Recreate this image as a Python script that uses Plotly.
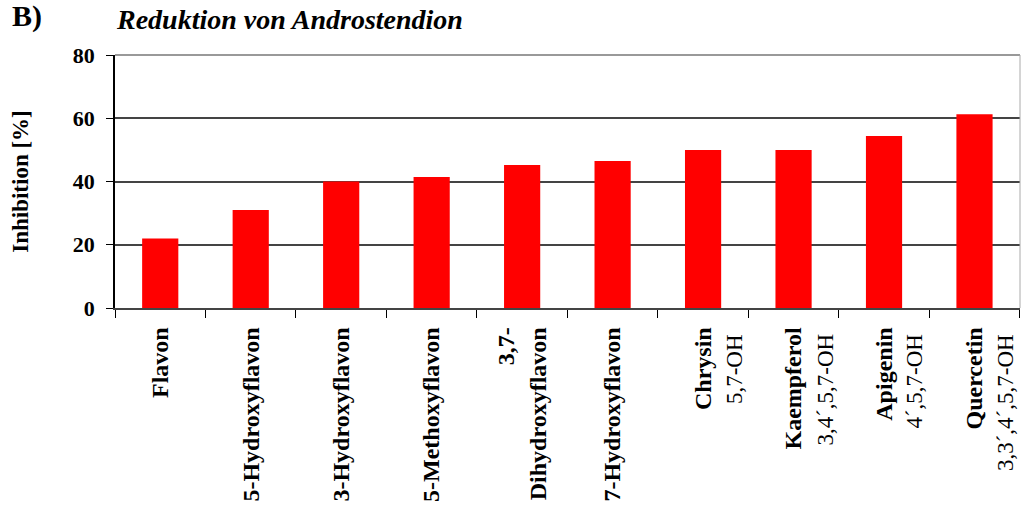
import plotly.graph_objects as go

categories = ["Flavon", "5-Hydroxyflavon", "3-Hydroxyflavon", "5-Methoxyflavon",
              "3,7-Dihydroxyflavon", "7-Hydroxyflavon", "Chrysin", "Kaempferol",
              "Apigenin", "Quercetin"]
tick_labels = ["<b>Flavon</b>", "<b>5-Hydroxyflavon</b>", "<b>3-Hydroxyflavon</b>",
               "<b>5-Methoxyflavon</b>", "<b>3,7-</b><br><b>Dihydroxyflavon</b>",
               "<b>7-Hydroxyflavon</b>", "<b>Chrysin</b>", "<b>Kaempferol</b>",
               "<b>Apigenin</b>", "<b>Quercetin</b>"]
hydroxy_labels = {"Chrysin": "5,7-OH", "Kaempferol": "3,4´,5,7-OH",
                  "Apigenin": "4´,5,7-OH", "Quercetin": "3,3´,4´,5,7-OH"}
inhibition = [22.0, 31.0, 40.0, 41.4, 45.2, 46.5, 50.0, 50.0, 54.4, 61.3]
y_ticks = [0, 20, 40, 60, 80]

FONT = "Liberation Serif, Times New Roman, serif"

fig = go.Figure(go.Bar(x=categories, y=inhibition, marker_color="#ff0000",
                       marker_line_width=0))

annotations = [
    dict(text="<b><i>Reduktion von Androstendion</i></b>", xref="paper", yref="paper",
         x=-0.001, y=1.142, xanchor="left", yanchor="middle", showarrow=False,
         font=dict(size=28, family=FONT, color="black")),
    dict(text="<b>B)</b>", xref="paper", yref="paper",
         x=-0.116, y=1.155, xanchor="left", yanchor="middle", showarrow=False,
         font=dict(size=30, family=FONT, color="black")),
]
for cat, txt in hydroxy_labels.items():
    annotations.append(dict(
        text=txt, xref="x", yref="paper", x=cat, y=-0.095, xanchor="center",
        yanchor="top", xshift=31, textangle=-90, showarrow=False,
        font=dict(size=23, family=FONT, color="black")))

fig.update_layout(
    width=1021, height=512,
    margin=dict(l=115, r=1, t=55, b=204, autoexpand=False),
    paper_bgcolor="white", plot_bgcolor="white",
    bargap=0.6, showlegend=False,
    font=dict(family=FONT, color="black"),
    xaxis=dict(
        type="category", tickmode="array", tickvals=categories, ticktext=tick_labels,
        tickangle=-90, tickfont=dict(size=24, family=FONT, color="black"),
        ticklabelstandoff=8,
        showline=True, linecolor="#444444", linewidth=1.5,
        ticks="outside", tickson="boundaries", ticklen=8, tickcolor="black",
        showgrid=False, automargin=False,
    ),
    yaxis=dict(
        range=[0, 80], tickmode="array", tickvals=y_ticks,
        ticktext=["<b>%d</b>" % v for v in y_ticks],
        tickfont=dict(size=22, family=FONT, color="black"),
        ticklabelstandoff=7,
        showline=True, linecolor="black", linewidth=1.5,
        ticks="outside", ticklen=7, tickcolor="black",
        showgrid=True, gridcolor="#444444", gridwidth=1.5, zeroline=False,
        title=dict(text="<b>Inhibition [%]</b>", font=dict(size=23, family=FONT),
                   standoff=38),
        automargin=False,
    ),
    shapes=[
        dict(type="line", xref="paper", yref="paper", x0=0, x1=1, y0=1, y1=1,
             line=dict(color="#999999", width=2)),
        dict(type="line", xref="paper", yref="paper", x0=1, x1=1, y0=0, y1=1,
             line=dict(color="#aaaaaa", width=1)),
    ],
    annotations=annotations,
)

fig.write_html("out.html", config={"displayModeBar": False},
               post_script="document.body.style.margin='0';")
